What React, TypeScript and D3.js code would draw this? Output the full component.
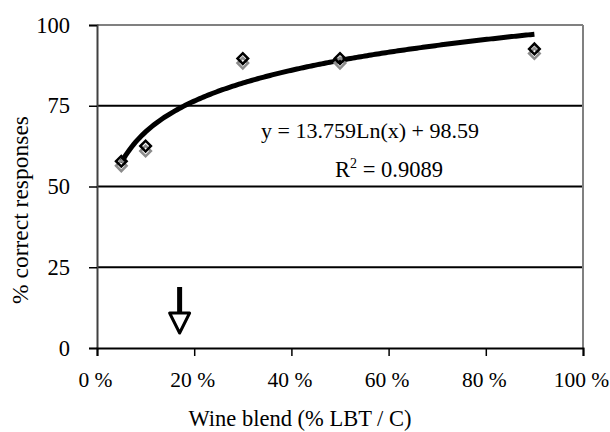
import React, { useEffect, useRef } from "react";
import * as d3 from "d3";

// blend fraction of LBT
const blends = [0.05, 0.1, 0.3, 0.5, 0.9];
// % correct responses, main (black) markers and the grey shadow markers
const correct = [57.8, 62.5, 89.6, 89.6, 92.6];
const correctShadow = [56.4, 61.0, 88.2, 88.2, 91.2];
const yTicks = [0, 25, 50, 75, 100];
const xTicks = [0, 0.2, 0.4, 0.6, 0.8, 1];
// logarithmic trend: y = a Ln(x) + b
const fitA = 13.759;
const fitB = 98.59;
const rSquared = 0.9089;
const arrowAt = 0.17;

export default function App() {
  const ref = useRef<SVGSVGElement>(null);

  useEffect(() => {
    const w = 610;
    const h = 432;
    const left = 97;
    const right = 583;
    const top = 25;
    const bottom = 348;
    const font = "'Liberation Serif', 'Times New Roman', serif";

    const xScale = d3.scaleLinear().domain([0, 1]).range([left, right]);
    const yScale = d3.scaleLinear().domain([0, 100]).range([bottom, top]);

    const svg = d3.select(ref.current);
    svg.selectAll("*").remove();
    svg.attr("width", w).attr("height", h).style("background", "#fff");

    // gridlines
    svg
      .append("g")
      .selectAll("line")
      .data(yTicks.filter(t => t > 0))
      .join("line")
      .attr("x1", left)
      .attr("x2", right)
      .attr("y1", d => yScale(d))
      .attr("y2", d => yScale(d))
      .attr("stroke", d => (d === 100 ? "#808080" : "#000"))
      .attr("stroke-width", 2);

    // right border
    svg
      .append("line")
      .attr("x1", right)
      .attr("x2", right)
      .attr("y1", top)
      .attr("y2", bottom)
      .attr("stroke", "#808080")
      .attr("stroke-width", 2);

    // y-axis
    const yAxis = d3.axisLeft(yScale).tickValues(yTicks).tickSize(8).tickFormat(d3.format("d"));
    const yG = svg.append("g").attr("transform", `translate(${left}, 0)`).call(yAxis);
    yG.select(".domain").attr("stroke", "#404040").attr("stroke-width", 2);
    yG.selectAll(".tick line").attr("stroke", "#000").attr("stroke-width", 1.5);
    yG.selectAll(".tick text")
      .attr("x", -27)
      .attr("font-family", font)
      .attr("font-size", 22.5)
      .attr("fill", "#000");

    // x-axis
    const xAxis = d3
      .axisBottom(xScale)
      .tickValues(xTicks)
      .tickSize(8)
      .tickFormat(d => `${Math.round(+d * 100)} %`);
    const xG = svg.append("g").attr("transform", `translate(0, ${bottom})`).call(xAxis);
    xG.select(".domain").attr("stroke", "#000").attr("stroke-width", 2);
    xG.selectAll(".tick line").attr("stroke", "#000").attr("stroke-width", 1.5);
    xG.selectAll(".tick text")
      .attr("y", 24)
      .attr("dx", -2)
      .attr("font-family", font)
      .attr("font-size", 21.5)
      .attr("fill", "#000");

    // axis titles
    svg
      .append("text")
      .attr("x", 300)
      .attr("y", h - 6)
      .attr("text-anchor", "middle")
      .attr("font-family", font)
      .attr("font-size", 22.5)
      .text("Wine blend (% LBT  / C)");

    svg
      .append("text")
      .attr("transform", "rotate(-90)")
      .attr("x", -210)
      .attr("y", 28)
      .attr("text-anchor", "middle")
      .attr("font-family", font)
      .attr("font-size", 23.5)
      .text("% correct responses");

    // trend line
    const xs = d3.range(0, 201).map(i => 0.05 + (i / 200) * 0.85);
    svg
      .append("path")
      .datum(xs)
      .attr("fill", "none")
      .attr("stroke", "#000")
      .attr("stroke-width", 5)
      .attr(
        "d",
        d3
          .line<number>()
          .x(d => xScale(d))
          .y(d => yScale(fitA * Math.log(d) + fitB))
      );

    // markers: squares turned 45 degrees
    const diamond = d3.symbol().type(d3.symbolSquare).size(56);
    svg
      .append("g")
      .selectAll("path")
      .data(blends)
      .join("path")
      .attr("transform", (d, i) => `translate(${xScale(d)}, ${yScale(correctShadow[i])}) rotate(45)`)
      .attr("d", diamond)
      .attr("fill", "none")
      .attr("stroke", "#8c8c8c")
      .attr("stroke-width", 2.5);
    svg
      .append("g")
      .selectAll("path")
      .data(blends)
      .join("path")
      .attr("transform", (d, i) => `translate(${xScale(d)}, ${yScale(correct[i])}) rotate(45)`)
      .attr("d", diamond)
      .attr("fill", "none")
      .attr("stroke", "#000")
      .attr("stroke-width", 2.5);

    // equation
    svg
      .append("text")
      .attr("x", 370)
      .attr("y", 138)
      .attr("text-anchor", "middle")
      .attr("font-family", font)
      .attr("font-size", 22)
      .text(`y = ${fitA}Ln(x) + ${fitB}`);
    const r2 = svg
      .append("text")
      .attr("x", 389)
      .attr("y", 177)
      .attr("text-anchor", "middle")
      .attr("font-family", font)
      .attr("font-size", 22.5);
    r2.append("tspan").text("R");
    r2.append("tspan").attr("dy", -9).attr("font-size", 14).text("2");
    r2.append("tspan").attr("dy", 9).text(` = ${rSquared}`);

    // arrow
    const ax = xScale(arrowAt);
    svg
      .append("line")
      .attr("x1", ax)
      .attr("x2", ax)
      .attr("y1", 287)
      .attr("y2", 315)
      .attr("stroke", "#000")
      .attr("stroke-width", 5);
    svg
      .append("path")
      .attr("d", `M${ax - 10},${313} L${ax + 10},${313} L${ax},${333} Z`)
      .attr("fill", "#fff")
      .attr("stroke", "#000")
      .attr("stroke-width", 3)
      .attr("stroke-linejoin", "round");
  }, []);

  return (
    <svg
      ref={ref}
      style={{ position: "absolute", left: 0, top: 0, display: "block" }}
    ></svg>
  );
}
